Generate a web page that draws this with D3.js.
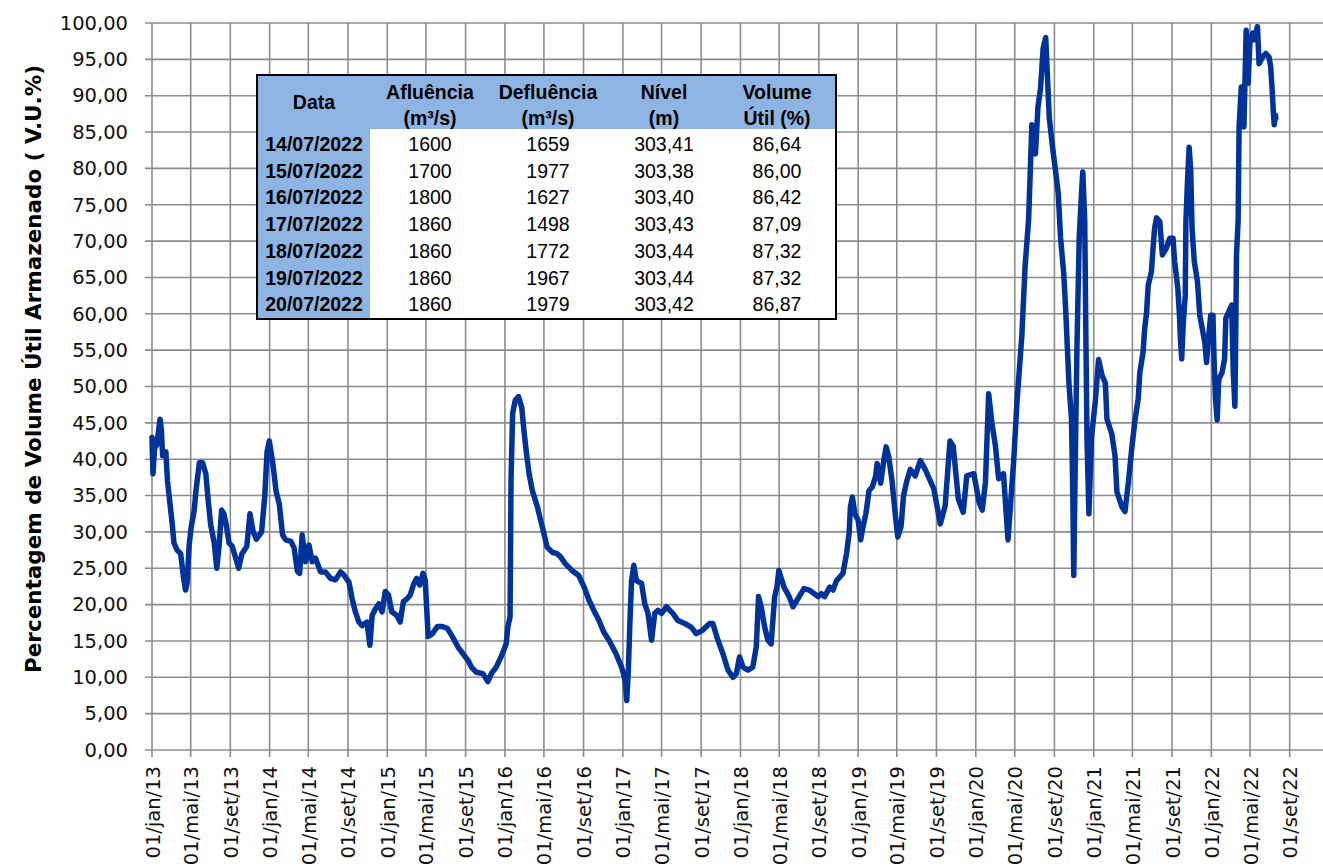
<!DOCTYPE html>
<html>
<head>
<meta charset="utf-8">
<script src="https://cdn.jsdelivr.net/npm/d3@7"></script>
<style>
  body { margin: 0; background: #fff; }
  svg { display: block; }
</style>
</head>
<body>
<div id="container"></div>
<script>
// volume util (%), por ano: [data, valor]
var ano2013 = [['2013-01-01',43],['2013-01-04',38],['2013-01-09',41.5],['2013-01-16',42],['2013-01-26',45.5],['2013-01-30',44],['2013-02-03',40.5],['2013-02-13',41],['2013-02-18',37],['2013-02-28',33],['2013-03-05',31],['2013-03-10',28.5],['2013-03-20',27.5],['2013-03-31',27],['2013-04-08',24],['2013-04-15',22],['2013-04-20',23],['2013-04-26',28],['2013-05-02',30.5],['2013-05-12',33],['2013-05-17',35.5],['2013-05-28',39.5],['2013-06-07',39.5],['2013-06-17',38],['2013-06-24',34.5],['2013-07-02',31],['2013-07-13',28.5],['2013-07-21',25],['2013-07-28',28],['2013-08-05',33],['2013-08-12',32.5],['2013-08-19',31],['2013-08-28',28.5],['2013-09-07',28],['2013-09-17',26.5],['2013-09-27',25],['2013-10-07',27],['2013-10-22',28],['2013-11-01',32.5],['2013-11-11',30],['2013-11-21',29],['2013-12-07',30],['2013-12-17',35],['2013-12-24',41],['2013-12-31',42.5]];
var ano2014 = [['2014-01-11',39.4],['2014-01-21',35.6],['2014-01-31',33.8],['2014-02-10',29.6],['2014-02-20',28.9],['2014-03-08',28.7],['2014-03-18',27.8],['2014-03-28',24.6],['2014-04-04',24.3],['2014-04-12',29.6],['2014-04-22',25.9],['2014-05-03',28.2],['2014-05-13',25.9],['2014-05-23',26.4],['2014-06-08',24.5],['2014-06-23',24.5],['2014-07-09',23.6],['2014-07-24',23.4],['2014-08-09',24.5],['2014-08-19',24.1],['2014-09-04',23.1],['2014-09-14',20.8],['2014-09-24',19],['2014-10-05',17.6],['2014-10-15',17.1],['2014-10-30',17.6],['2014-11-08',14.4],['2014-11-15',18.5],['2014-11-25',19.4],['2014-12-06',20.1],['2014-12-16',19],['2014-12-26',21.8]];
var ano2015 = [['2015-01-05',21.3],['2015-01-15',19],['2015-01-31',18.5],['2015-02-10',17.6],['2015-02-20',20.4],['2015-03-03',20.8],['2015-03-13',21.3],['2015-03-23',22.7],['2015-04-02',23.6],['2015-04-12',22.7],['2015-04-22',24.3],['2015-04-29',23.3],['2015-05-03',19.7],['2015-05-08',15.6],['2015-05-21',16],['2015-06-06',17],['2015-06-21',17],['2015-07-07',16.7],['2015-07-22',15.6],['2015-08-08',14.2],['2015-08-23',13.3],['2015-09-09',12.3],['2015-09-19',11.4],['2015-10-04',10.7],['2015-10-25',10.5],['2015-11-09',9.4],['2015-11-20',10.5],['2015-12-05',11.4],['2015-12-20',12.8]];
var ano2016 = [['2016-01-05',14.6],['2016-01-10',16.9],['2016-01-17',18.3],['2016-01-20',37.1],['2016-01-25',46.3],['2016-02-02',48.1],['2016-02-12',48.6],['2016-02-22',47.2],['2016-03-01',43.5],['2016-03-08',40.8],['2016-03-16',38],['2016-03-26',35.7],['2016-04-11',33.4],['2016-04-26',30.7],['2016-05-11',27.9],['2016-05-27',27.2],['2016-06-11',27],['2016-06-21',26.6],['2016-07-07',25.6],['2016-07-27',24.7],['2016-08-17',24],['2016-09-03',22.4],['2016-09-18',20.6],['2016-10-03',19.2],['2016-10-19',17.8],['2016-11-03',16.2],['2016-11-19',15.1],['2016-12-10',13.3],['2016-12-28',11.4]];
var ano2017 = [['2017-01-08',9.6],['2017-01-13',6.8],['2017-01-18',11],['2017-01-23',17.8],['2017-01-28',23.3],['2017-02-04',25.4],['2017-02-12',23.3],['2017-02-28',22.9],['2017-03-10',20.1],['2017-03-20',18.8],['2017-03-31',15.1],['2017-04-10',18.8],['2017-04-20',19.2],['2017-05-01',18.8],['2017-05-16',19.7],['2017-06-05',18.8],['2017-06-21',17.8],['2017-07-12',17.4],['2017-08-01',16.9],['2017-08-17',16],['2017-09-06',16.5],['2017-09-27',17.4],['2017-10-07',17.4],['2017-10-23',15.1],['2017-11-07',13.3],['2017-11-23',11],['2017-12-09',10],['2017-12-19',10.5],['2017-12-29',12.8]];
var ano2018 = [['2018-01-09',11.4],['2018-01-24',11],['2018-02-08',11.4],['2018-02-19',14.2],['2018-02-26',21.1],['2018-03-06',19.7],['2018-03-17',16.9],['2018-03-27',15.1],['2018-04-06',14.6],['2018-04-17',21.1],['2018-04-24',22.4],['2018-04-30',24.7],['2018-05-06',23.8],['2018-05-16',22.4],['2018-06-01',21.1],['2018-06-13',19.7],['2018-07-02',21.1],['2018-07-17',22.2],['2018-08-02',22],['2018-08-18',21.5],['2018-08-30',21.1],['2018-09-09',21.5],['2018-09-19',21.1],['2018-10-05',22.4],['2018-10-15',22],['2018-10-26',23.3],['2018-11-05',23.8],['2018-11-15',24.3],['2018-11-26',27],['2018-12-04',29.8],['2018-12-08',33.4],['2018-12-14',34.8],['2018-12-22',32.5]];
var ano2019 = [['2019-01-01',31.6],['2019-01-09',28.9],['2019-01-16',30.7],['2019-01-25',32.5],['2019-02-04',35.7],['2019-02-14',36.2],['2019-02-24',37.6],['2019-03-01',39.4],['2019-03-12',36.7],['2019-03-22',39.9],['2019-03-29',41.7],['2019-04-06',40.3],['2019-04-16',37.1],['2019-04-26',32.5],['2019-05-04',29.3],['2019-05-14',30.7],['2019-05-22',35],['2019-06-01',37],['2019-06-12',38.6],['2019-06-27',37.7],['2019-07-13',39.8],['2019-07-28',38.6],['2019-08-24',35.9],['2019-09-13',31.1],['2019-09-28',33.6],['2019-10-13',42.5],['2019-10-23',41.8],['2019-11-08',34.5],['2019-11-23',32.7],['2019-12-04',37.7],['2019-12-26',38]];
var ano2020 = [['2020-01-11',34.1],['2020-01-21',33],['2020-01-31',36.8],['2020-02-10',49],['2020-02-20',45],['2020-03-02',41.8],['2020-03-12',37.3],['2020-03-27',38],['2020-04-10',28.9],['2020-04-28',40],['2020-05-08',48],['2020-05-23',57],['2020-06-02',66.5],['2020-06-13',73],['2020-06-18',79.5],['2020-06-23',86],['2020-06-29',83],['2020-07-04',82],['2020-07-12',88.5],['2020-07-20',91],['2020-07-28',96.5],['2020-08-05',98],['2020-08-10',93],['2020-08-16',87],['2020-08-26',83],['2020-09-05',79.5],['2020-09-13',76.5],['2020-09-20',70.5],['2020-09-30',65.5],['2020-10-06',60.5],['2020-10-11',55.5],['2020-10-16',50.5],['2020-10-24',45.5],['2020-10-28',35.5],['2020-10-31',24],['2020-11-05',40.5],['2020-11-10',55.5],['2020-11-17',70.5],['2020-11-24',76.5],['2020-11-28',79.5],['2020-12-04',73],['2020-12-08',55.5],['2020-12-11',43],['2020-12-17',32.5],['2020-12-25',43]];
var ano2021 = [['2021-01-06',48],['2021-01-16',53.7],['2021-01-27',51.5],['2021-02-06',50.5],['2021-02-11',45.5],['2021-02-26',43.5],['2021-03-08',40.5],['2021-03-14',35.5],['2021-03-29',33.5],['2021-04-08',32.8],['2021-04-19',37],['2021-04-29',41.5],['2021-05-09',45.3],['2021-05-19',48.3],['2021-05-24',51.9],['2021-06-03',54.7],['2021-06-08',57.9],['2021-06-14',60.2],['2021-06-19',63.9],['2021-06-29',65.8],['2021-07-04',69],['2021-07-09',71.8],['2021-07-15',73.2],['2021-07-25',72.7],['2021-08-02',68.1],['2021-08-14',69],['2021-08-25',70.4],['2021-09-04',70.4],['2021-09-09',67.2],['2021-09-19',63.5],['2021-09-24',59.8],['2021-09-27',56.5],['2021-10-01',53.8],['2021-10-06',58.9],['2021-10-12',62.5],['2021-10-14',72.7],['2021-10-19',78.3],['2021-10-24',82.9],['2021-10-29',79.7],['2021-11-02',71.8],['2021-11-09',67.2],['2021-11-19',64.4],['2021-11-26',59.8],['2021-12-04',57.9],['2021-12-12',56],['2021-12-17',53.3],['2021-12-24',57],['2021-12-30',59.8]];
var ano2022 = [['2022-01-06',59.8],['2022-01-09',54.2],['2022-01-14',48.2],['2022-01-19',45.4],['2022-01-24',51],['2022-02-03',51.9],['2022-02-11',53.8],['2022-02-15',59.4],['2022-02-23',60.2],['2022-03-05',61.2],['2022-03-10',51.9],['2022-03-15',47.3],['2022-03-17',54.7],['2022-03-20',68.1],['2022-03-25',72.7],['2022-03-28',85.7],['2022-04-04',91.2],['2022-04-12',85.7],['2022-04-19',99],['2022-04-25',91.7],['2022-05-01',97.7],['2022-05-09',98.6],['2022-05-14',97.7],['2022-05-24',99.5],['2022-05-29',94.4],['2022-06-08',95.3],['2022-06-19',95.8],['2022-06-29',95.3],['2022-07-04',94],['2022-07-09',90.5],['2022-07-12',88]];

// tabela dos ultimos dias
var tabDatas = ['14/07/2022','15/07/2022','16/07/2022','17/07/2022','18/07/2022','19/07/2022','20/07/2022'];
var afluencia = [1600, 1700, 1800, 1860, 1860, 1860, 1860];
var defluencia = [1659, 1977, 1627, 1498, 1772, 1967, 1979];
var nivel = [303.41, 303.38, 303.40, 303.43, 303.44, 303.44, 303.42];
var volUtil = [86.64, 86.00, 86.42, 87.09, 87.32, 87.32, 86.87];
var cabecalho = [['Data'], ['Afluência', '(m³/s)'], ['Defluência', '(m³/s)'], ['Nível', '(m)'], ['Volume', 'Útil (%)']];

var yTicks = d3.range(0, 101, 5);
var tituloY = 'Percentagem de Volume Útil Armazenado ( V.U.%)';

var W = 1323, H = 866;
var left = 152, top_ = 23, bottom = 750;

var parseIso = d3.timeParse('%Y-%m-%d');
var parseBr = d3.timeParse('%d/%m/%Y');

var pt = d3.timeFormatLocale({
  dateTime: '%d/%m/%Y %H:%M:%S', date: '%d/%m/%Y', time: '%H:%M:%S', periods: ['AM', 'PM'],
  days: ['domingo','segunda','terça','quarta','quinta','sexta','sábado'],
  shortDays: ['dom','seg','ter','qua','qui','sex','sáb'],
  months: ['janeiro','fevereiro','março','abril','maio','junho','julho','agosto','setembro','outubro','novembro','dezembro'],
  shortMonths: ['jan','fev','mar','abr','mai','jun','jul','ago','set','out','nov','dez']
});
var numPt = d3.formatLocale({decimal: ',', thousands: '.', grouping: [3], currency: ['R$', '']});
var f2 = numPt.format('.2f');

var serie = [].concat(ano2013, ano2014, ano2015, ano2016, ano2017, ano2018, ano2019, ano2020, ano2021, ano2022)
  .map(function(d) { return {date: parseIso(d[0]), v: d[1]}; });
tabDatas.forEach(function(d, i) { serie.push({date: parseBr(d), v: volUtil[i]}); });

var x = d3.scaleTime()
  .domain([new Date(2013, 0, 1), new Date(2023, 0, 1)])
  .range([left, 1329]);
var y = d3.scaleLinear().domain([0, 100]).range([bottom, top_]);

var xTicks = d3.timeMonth.every(4).range(new Date(2013, 0, 1), new Date(2022, 9, 1));

var svg = d3.select('#container')
  .append('svg')
  .attr('width', W)
  .attr('height', H);

var gridColor = '#8c8c8c';

// grade horizontal
svg.append('g')
  .selectAll('line')
  .data(yTicks)
  .enter()
  .append('line')
  .attr('x1', left - 7)
  .attr('x2', W)
  .attr('y1', function(d) { return y(d); })
  .attr('y2', function(d) { return y(d); })
  .style('stroke', gridColor)
  .style('stroke-width', 1.6);

// grade vertical
svg.append('g')
  .selectAll('line')
  .data(xTicks)
  .enter()
  .append('line')
  .attr('x1', function(d) { return x(d); })
  .attr('x2', function(d) { return x(d); })
  .attr('y1', top_)
  .attr('y2', bottom + 7)
  .style('stroke', gridColor)
  .style('stroke-width', 1.6);

// eixo y
var yAxis = svg.append('g')
  .attr('transform', 'translate(' + left + ',0)')
  .call(d3.axisLeft(y).tickValues(yTicks).tickFormat(f2).tickSize(0).tickPadding(24));
yAxis.select('.domain').remove();
yAxis.selectAll('text')
  .style('font-family', '"DejaVu Sans", Verdana, sans-serif')
  .style('font-size', '19.5px')
  .style('fill', '#111');

// eixo x
var xAxis = svg.append('g')
  .attr('transform', 'translate(0,' + bottom + ')')
  .call(d3.axisBottom(x).tickValues(xTicks).tickFormat(pt.format('%d/%b/%y')).tickSize(0));
xAxis.select('.domain').remove();
xAxis.selectAll('text')
  .attr('transform', 'rotate(-90)')
  .attr('x', -16)
  .attr('y', 0)
  .attr('dy', '0.36em')
  .style('text-anchor', 'end')
  .style('font-family', '"DejaVu Sans", Verdana, sans-serif')
  .style('font-size', '19.5px')
  .style('fill', '#111');

// titulo eixo y
svg.append('text')
  .attr('transform', 'translate(33,' + 369 + ') rotate(-90)')
  .attr('dy', '0.35em')
  .style('text-anchor', 'middle')
  .style('font-family', '"DejaVu Sans", Verdana, sans-serif')
  .style('font-weight', 'bold')
  .style('font-size', '21.5px')
  .style('fill', '#000')
  .text(tituloY);

// serie
var line = d3.line()
  .x(function(d) { return x(d.date); })
  .y(function(d) { return y(d.v); });

svg.append('path')
  .datum(serie)
  .attr('d', line)
  .style('fill', 'none')
  .style('stroke', '#003399')
  .style('stroke-width', 5.5)
  .style('stroke-linejoin', 'round')
  .style('stroke-linecap', 'round');

// tabela
var tab = {x: 258, y: 76, w: 577, h: 242, headH: 53, colW: 112};
var colX = [314, 430, 548, 664, 777];
var rowY = d3.scaleLinear().domain([0, tabDatas.length - 1]).range([144, 304.5]);
var tFont = '"Liberation Sans", Arial, sans-serif';
var azul = '#8db4e2';

var g = svg.append('g');
g.append('rect')
  .attr('x', tab.x).attr('y', tab.y).attr('width', tab.w).attr('height', tab.h)
  .style('fill', '#fff');
g.append('rect')
  .attr('x', tab.x).attr('y', tab.y).attr('width', tab.w).attr('height', tab.headH)
  .style('fill', azul);
g.append('rect')
  .attr('x', tab.x).attr('y', tab.y + tab.headH).attr('width', tab.colW).attr('height', tab.h - tab.headH)
  .style('fill', azul);
g.append('rect')
  .attr('x', tab.x - 1).attr('y', tab.y - 1).attr('width', tab.w + 2).attr('height', tab.h + 2)
  .style('fill', 'none')
  .style('stroke', '#000')
  .style('stroke-width', 2);

cabecalho.forEach(function(c, i) {
  var ys = c.length === 1 ? [102] : [92, 118];
  c.forEach(function(t, j) {
    g.append('text')
      .attr('x', colX[i])
      .attr('y', ys[j])
      .attr('dy', '0.35em')
      .style('text-anchor', 'middle')
      .style('font-family', tFont)
      .style('font-weight', 'bold')
      .style('font-size', '19.5px')
      .text(t);
  });
});

var linhas = tabDatas.map(function(d, i) {
  return [d, String(afluencia[i]), String(defluencia[i]), f2(nivel[i]), f2(volUtil[i])];
});

linhas.forEach(function(r, i) {
  r.forEach(function(t, j) {
    g.append('text')
      .attr('x', colX[j])
      .attr('y', rowY(i))
      .attr('dy', '0.35em')
      .style('text-anchor', 'middle')
      .style('font-family', tFont)
      .style('font-weight', j === 0 ? 'bold' : 'normal')
      .style('font-size', '19.5px')
      .text(t);
  });
});
</script>
</body>
</html>
